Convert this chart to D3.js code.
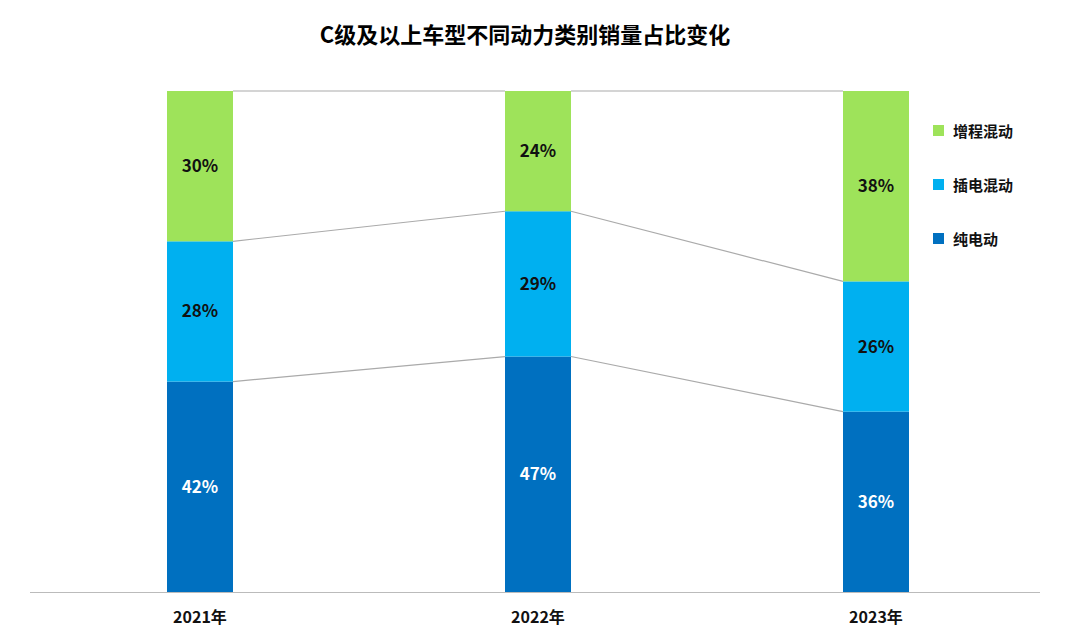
<!DOCTYPE html>
<html><head><meta charset="utf-8">
<script src="https://cdn.jsdelivr.net/npm/d3@7"></script>
<style>body{margin:0;background:#fff;font-family:"Noto Sans CJK SC","Noto Sans",sans-serif}</style>
</head><body>
<svg id="c" width="1080" height="637"></svg>
<script>
const years = ['2021年', '2022年', '2023年']
const seriesNames = ['纯电动', '插电混动', '增程混动']
const bev = [42, 47, 36]
const phev = [28, 29, 26]
const erev = [30, 24, 38]
const colors = ['#0070c0', '#00b0f0', '#9ee35a']

const svg = d3.select('#c')
const x = d3.scalePoint().domain(years).range([200, 876])
const y = d3.scaleLinear().domain([0, 100]).range([592, 91])
const bw = 66

svg.append('text').attr('x', 525).attr('y', 43).attr('text-anchor', 'middle')
  .attr('font-size', 22).attr('font-weight', 'bold').text('C级及以上车型不同动力类别销量占比变化')

const rows = years.map((yr, i) => ({yr, v: [bev[i], phev[i], erev[i]]}))
const stacked = d3.stack().keys([0, 1, 2]).value((d, k) => d.v[k])(rows)

// connector lines
stacked.forEach(s => {
  for (let i = 0; i < years.length - 1; i++) {
    svg.append('line')
      .attr('x1', x(years[i]) + bw / 2).attr('y1', y(s[i][1]))
      .attr('x2', x(years[i + 1]) - bw / 2).attr('y2', y(s[i + 1][1]))
      .attr('stroke', '#aaa').attr('stroke-width', 1.2)
  }
})

stacked.forEach((s, k) => {
  const g = svg.append('g')
  g.selectAll('rect').data(s).enter().append('rect')
    .attr('x', d => x(d.data.yr) - bw / 2).attr('width', bw)
    .attr('y', d => y(d[1])).attr('height', d => y(d[0]) - y(d[1]))
    .attr('fill', colors[k])
  g.selectAll('text').data(s).enter().append('text')
    .attr('x', d => x(d.data.yr)).attr('y', d => (y(d[0]) + y(d[1])) / 2 + 6)
    .attr('text-anchor', 'middle').attr('font-size', 17).attr('font-weight', 'bold')
    .attr('fill', k === 0 ? '#fff' : '#111')
    .text(d => (d[1] - d[0]) + '%')
})

svg.append('line').attr('x1', 30).attr('x2', 1040).attr('y1', 592.5).attr('y2', 592.5)
  .attr('stroke', '#bbb')
svg.selectAll('.yr').data(years).enter().append('text')
  .attr('x', d => x(d)).attr('y', 623).attr('text-anchor', 'middle')
  .attr('font-size', 16).attr('font-weight', 'bold').attr('fill', '#111').text(d => d)

const leg = [2, 1, 0]
leg.forEach((k, i) => {
  svg.append('rect').attr('x', 933).attr('y', 125 + i * 54).attr('width', 11).attr('height', 11).attr('fill', colors[k])
  svg.append('text').attr('x', 953).attr('y', 137 + i * 54).attr('font-size', 15)
    .attr('font-weight', 'bold').attr('fill', '#111').text(seriesNames[k])
})
</script>
</body></html>
